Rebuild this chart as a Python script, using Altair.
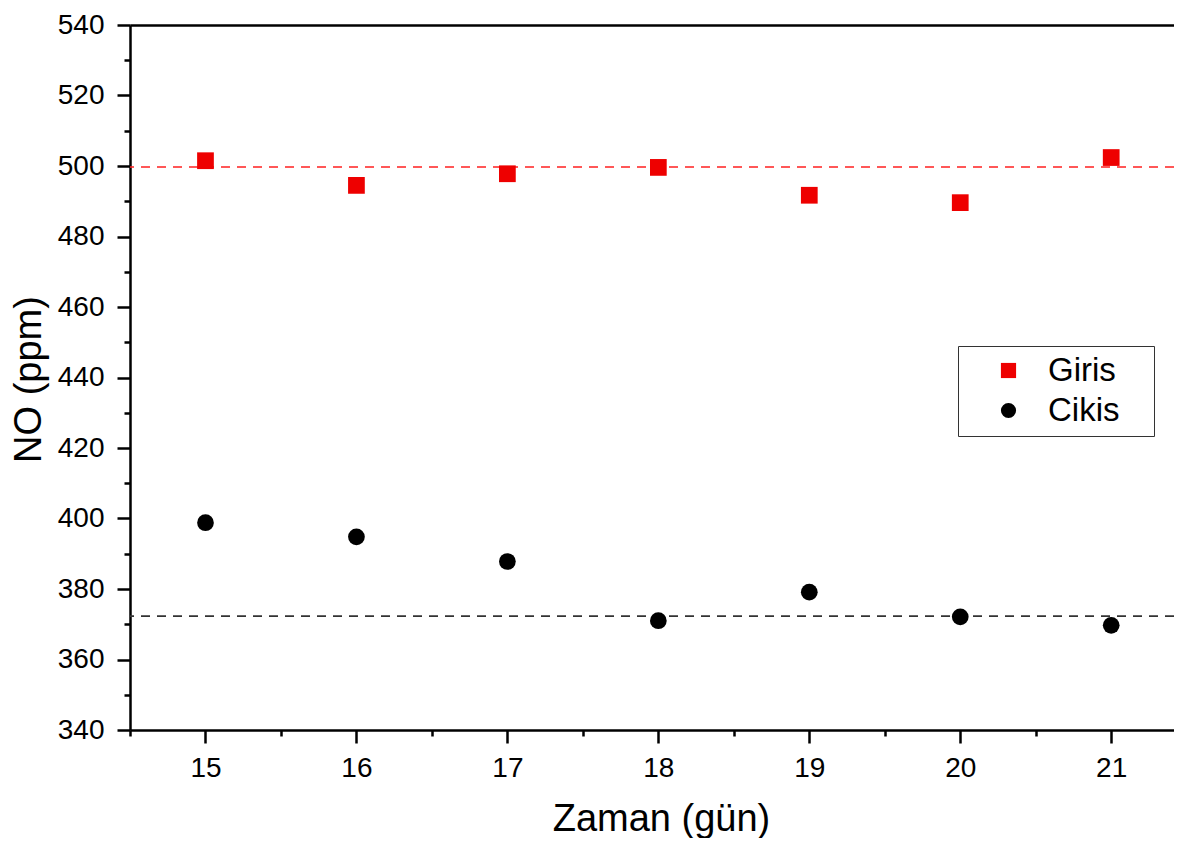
import altair as alt
import pandas as pd

days = [15, 16, 17, 18, 19, 20, 21]
giris = [501.5, 494.5, 497.8, 499.6, 491.7, 489.6, 502.4]
cikis = [398.8, 394.8, 387.8, 371.0, 379.1, 372.1, 369.7]
series_names = ["Giris", "Cikis"]
giris_ref = [499.7]
cikis_ref = [372.3]

x_major = [15, 16, 17, 18, 19, 20, 21]
x_minor = [14.5, 15.5, 16.5, 17.5, 18.5, 19.5, 20.5]
y_major = [340, 360, 380, 400, 420, 440, 460, 480, 500, 520, 540]
y_minor = [350, 370, 390, 410, 430, 450, 470, 490, 510, 530]

FONT = "Liberation Sans"
W, H = 1044, 705

df = pd.DataFrame({
    "day": days * 2,
    "value": giris + cikis,
    "series": ["Giris"] * len(days) + ["Cikis"] * len(days),
})

xscale = alt.Scale(domain=[14.5, 21.416], nice=False, zero=False)
yscale = alt.Scale(domain=[340, 540], nice=False, zero=False)

legend = alt.Legend(
    orient="none", legendX=828, legendY=321,
    title=".", titleOrient="right", titleColor="white", titleFontSize=10, titlePadding=24,
    labelFontSize=33, labelFont=FONT, labelColor="black",
    symbolSize=230, padding=8, rowPadding=6, symbolOffset=26, labelOffset=23,
    strokeColor="#333333", symbolStrokeWidth=0,
)
color = alt.Color("series:N", scale=alt.Scale(domain=series_names, range=["#ee0000", "black"]), legend=legend)
shape = alt.Shape("series:N", scale=alt.Scale(domain=series_names, range=["square", "circle"]), legend=legend)

x_axis_major = alt.Axis(
    orient="bottom", values=x_major, tickSize=13, tickWidth=2.5, tickColor="black",
    domainWidth=2.5, domainColor="black", grid=False,
    labelFontSize=28, labelFont=FONT, labelColor="black", labelPadding=11,
    labelFlush=False, labelOverlap=False, format="d",
    title="Zaman (gün)", titleFontSize=38, titleFont=FONT, titleFontWeight="normal",
    titleColor="black", titleX=531, titleY=100, titleBaseline="alphabetic", titleAlign="center",
)
y_axis_major = alt.Axis(
    orient="left", values=y_major, tickSize=13, tickWidth=2.5, tickColor="black",
    domainWidth=2.5, domainColor="black", grid=False,
    labelFontSize=28, labelFont=FONT, labelColor="black", labelPadding=13,
    labelFlush=False, labelOverlap=False, format="d",
    title="NO (ppm)", titleFontSize=38, titleFont=FONT, titleFontWeight="normal",
    titleColor="black", titleX=-101, titleY=354, titleAngle=270,
    titleBaseline="middle", titleAlign="center",
)
x_axis_minor = alt.Axis(orient="bottom", values=x_minor, tickSize=6, tickWidth=2.5,
                        tickColor="black", domain=False, labels=False, grid=False, title=None)
y_axis_minor = alt.Axis(orient="left", values=y_minor, tickSize=6, tickWidth=2.5,
                        tickColor="black", domain=False, labels=False, grid=False, title=None)
x_axis_top = alt.Axis(orient="top", domain=True, domainWidth=2.5, domainColor="black",
                      ticks=False, labels=False, grid=False, title=None)

rule_red = alt.Chart(pd.DataFrame({"y": giris_ref})).mark_rule(
    color="#ff2020", strokeDash=[9, 7], strokeWidth=1.6
).encode(y=alt.Y("y:Q", scale=yscale, axis=None))
rule_black = alt.Chart(pd.DataFrame({"y": cikis_ref})).mark_rule(
    color="#333333", strokeDash=[9, 7], strokeWidth=1.6
).encode(y=alt.Y("y:Q", scale=yscale, axis=None))

frame_top = alt.Chart(df).mark_point(opacity=0).encode(
    x=alt.X("day:Q", scale=xscale, axis=x_axis_top),
    y=alt.Y("value:Q", scale=yscale, axis=None),
)

pts_giris = alt.Chart(df).transform_filter(alt.datum.series == "Giris").mark_point(
    filled=True, size=280, opacity=1, strokeWidth=0
).encode(
    x=alt.X("day:Q", scale=xscale, axis=x_axis_major),
    y=alt.Y("value:Q", scale=yscale, axis=y_axis_major),
    color=color, shape=shape,
)
pts_cikis = alt.Chart(df).transform_filter(alt.datum.series == "Cikis").mark_point(
    filled=True, size=280, opacity=1, strokeWidth=0
).encode(
    x=alt.X("day:Q", scale=xscale, axis=x_axis_minor),
    y=alt.Y("value:Q", scale=yscale, axis=y_axis_minor),
    color=color, shape=shape,
)

chart = alt.layer(rule_red, rule_black, frame_top, pts_giris, pts_cikis).resolve_axis(
    x="independent", y="independent"
).properties(
    width=W, height=H,
    autosize=alt.AutoSizeParams(type="none"),
    padding={"left": 122, "top": 17, "right": 0, "bottom": 108},
).configure_view(stroke=None).configure(background="white")

chart.save("out.html", embed_options={"renderer": "svg", "actions": False})
